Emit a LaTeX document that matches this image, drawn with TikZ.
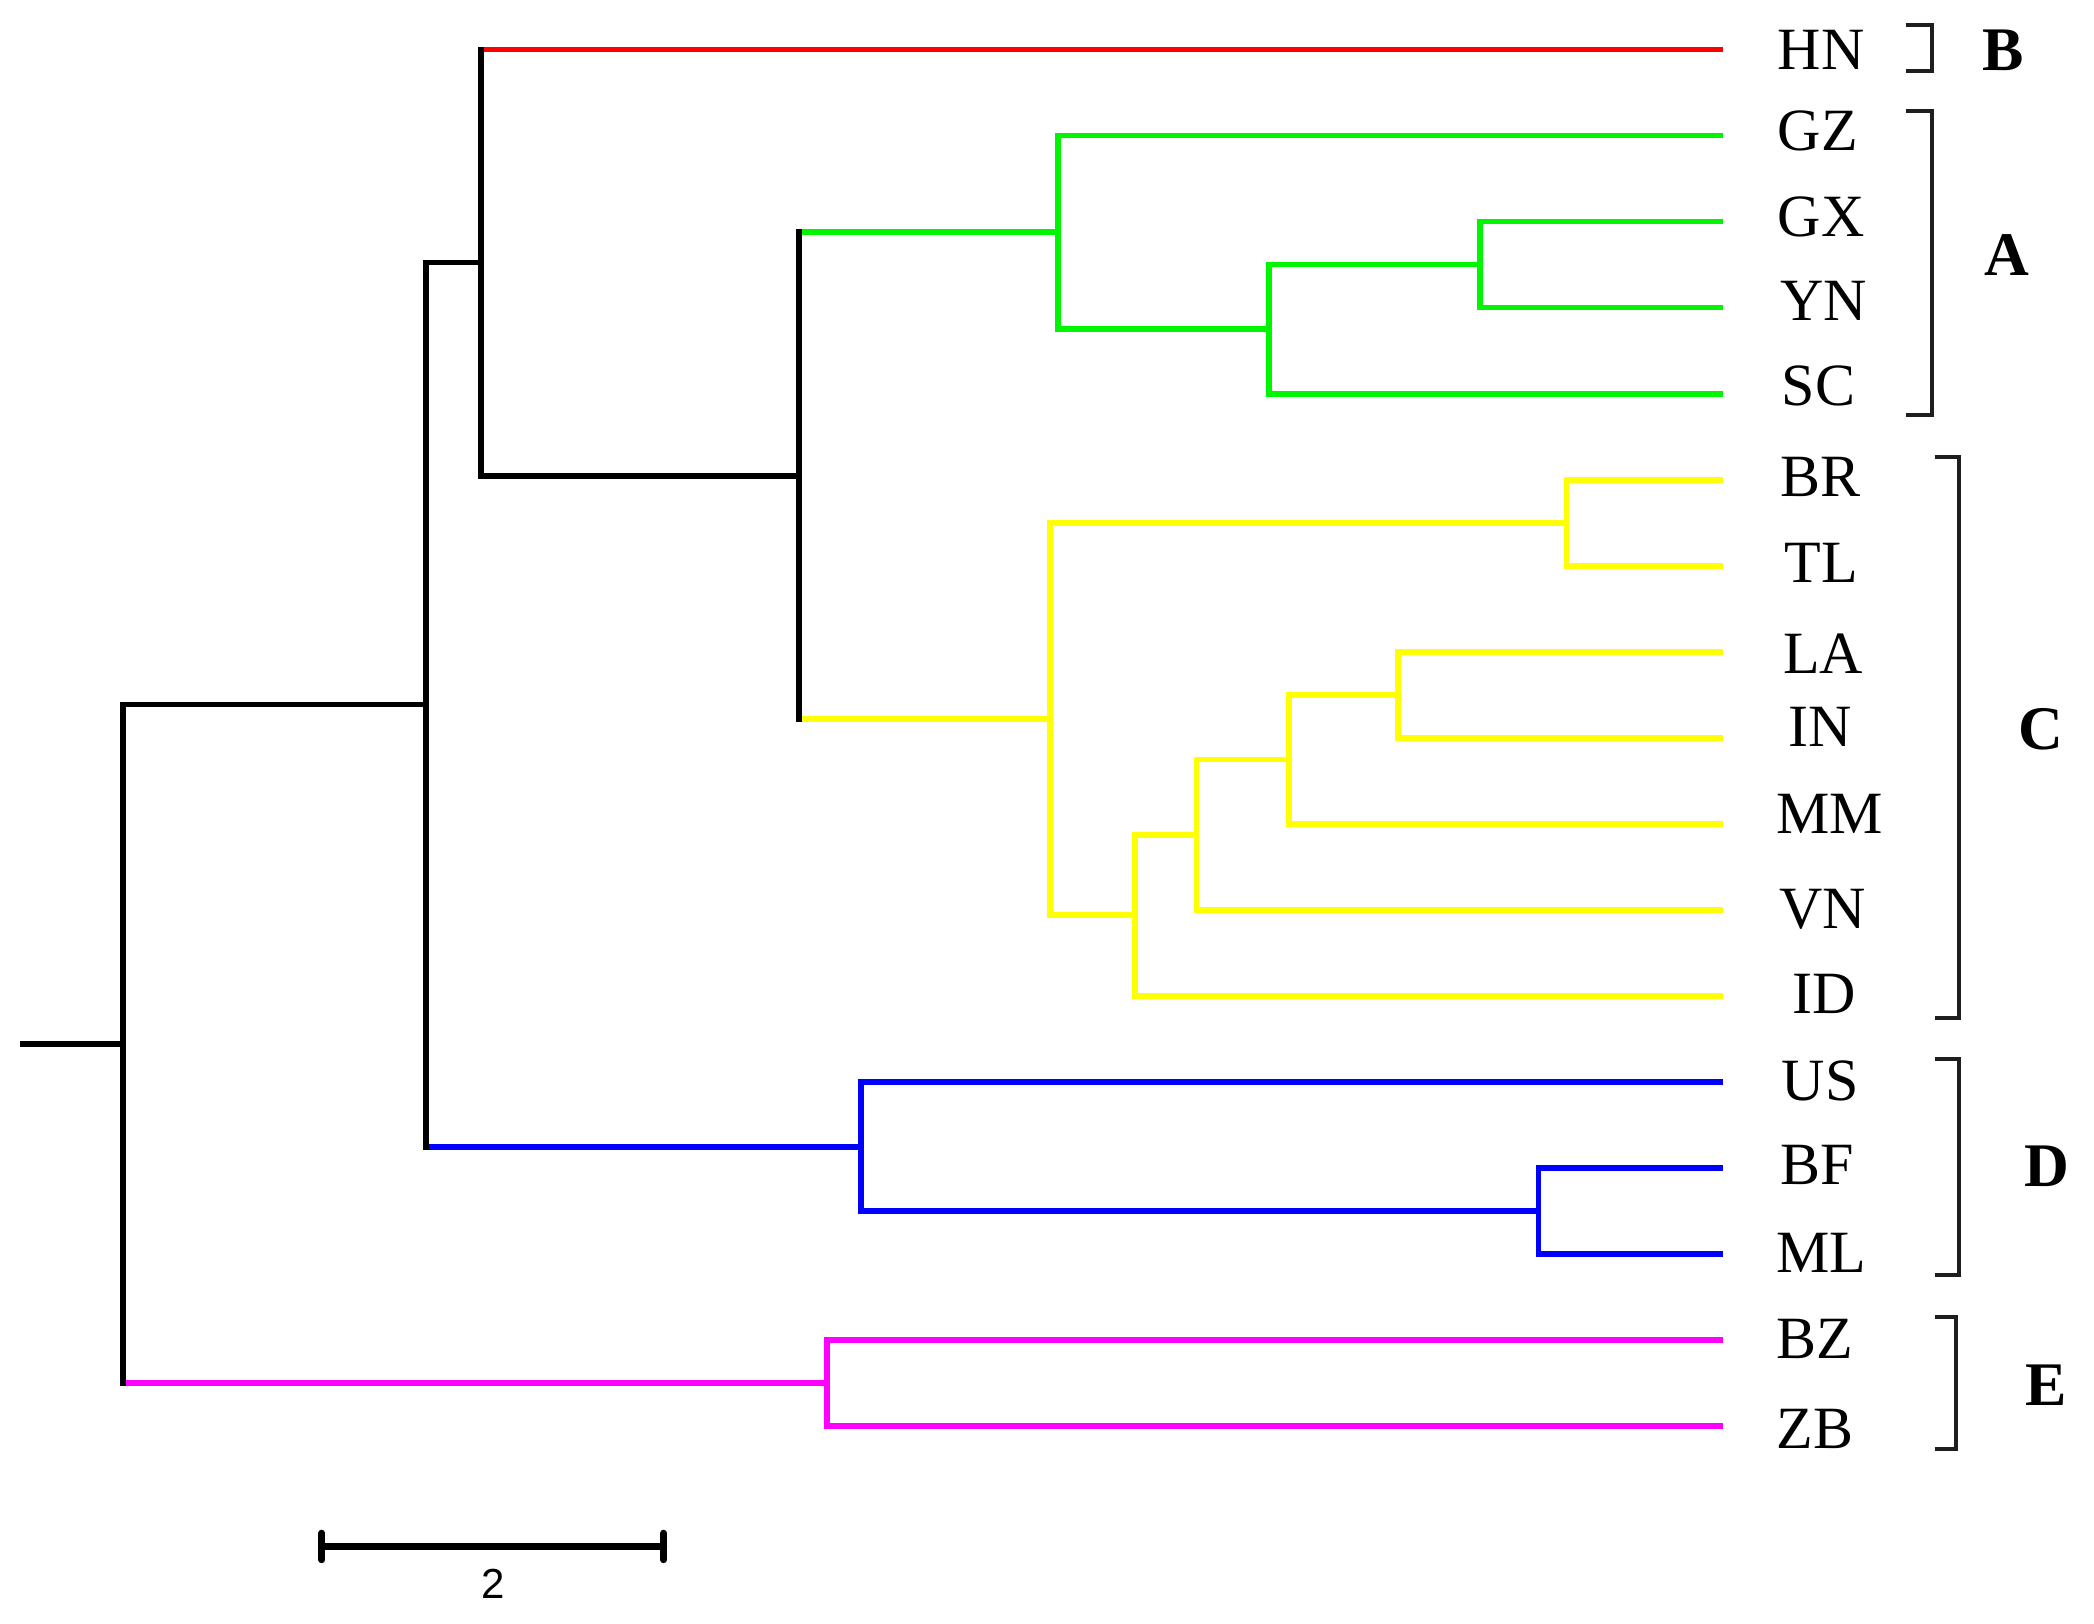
\documentclass[tikz,border=0pt]{standalone}
\usepackage{fontspec}
\setmainfont{Liberation Serif}
\newfontfamily\barfont{Liberation Sans}
\definecolor{cred}{RGB}{255,0,0}
\definecolor{cgreen}{RGB}{0,245,0}
\definecolor{cyellow}{RGB}{255,255,0}
\definecolor{cblue}{RGB}{0,0,255}
\definecolor{cmag}{RGB}{255,0,255}
\definecolor{cbrk}{RGB}{30,30,30}
\tikzset{
  edge/.style={line width=2.9pt, line cap=butt},
  vedge/.style={line width=2.9pt, line cap=rect},
  lab/.style={anchor=base west, inner sep=0pt, font=\fontsize{30}{30}\selectfont},
  grp/.style={anchor=center, inner sep=0pt, font=\fontsize{31}{31}\selectfont\bfseries},
  brk/.style={line width=2pt, draw=cbrk, line join=miter},
  sbar/.style={line width=3.4pt, line cap=round}
}
\begin{document}
\begin{tikzpicture}[x=0.6677pt,y=-0.6677pt]
\useasboundingbox (0,0) rectangle (1568,1216);
% internal nodes
\coordinate (root) at (15,781.7);
\coordinate (n0) at (92,781.7);
\coordinate (nABCD) at (319,527.6);
\coordinate (nBAC) at (360,196.6);
\coordinate (nAC) at (598,356.2);
\coordinate (nA) at (792,174);
\coordinate (nA2) at (950,246.5);
\coordinate (nA3) at (1108,198.1);
\coordinate (nC) at (786,538.4);
\coordinate (nC1) at (1173,391.4);
\coordinate (nC2) at (850,685.4);
\coordinate (nC3) at (896,625);
\coordinate (nC4) at (965,568.7);
\coordinate (nC5) at (1047,520.3);
\coordinate (nD) at (645,858.6);
\coordinate (nD1) at (1152,907);
\coordinate (nE) at (619,1035.8);
% leaves
\coordinate (lHN) at (1290,37);
\coordinate (lGZ) at (1290,101.4);
\coordinate (lGX) at (1290,165.9);
\coordinate (lYN) at (1290,230.3);
\coordinate (lSC) at (1290,294.8);
\coordinate (lBR) at (1290,359.2);
\coordinate (lTL) at (1290,423.6);
\coordinate (lLA) at (1290,488.1);
\coordinate (lIN) at (1290,552.5);
\coordinate (lMM) at (1290,617);
\coordinate (lVN) at (1290,681.4);
\coordinate (lID) at (1290,745.8);
\coordinate (lUS) at (1290,810.3);
\coordinate (lBF) at (1290,874.7);
\coordinate (lML) at (1290,939.2);
\coordinate (lBZ) at (1290,1003.6);
\coordinate (lZB) at (1290,1068);
% horizontal branches
\draw[edge] (root) -- (n0);
\draw[edge] (n0 |- nABCD) -- (nABCD);
\draw[edge,cmag] (n0 |- nE) -- (nE);
\draw[edge] (nABCD |- nBAC) -- (nBAC);
\draw[edge,cblue] (nABCD |- nD) -- (nD);
\draw[edge,cred] (nBAC |- lHN) -- (lHN);
\draw[edge] (nBAC |- nAC) -- (nAC);
\draw[edge,cgreen] (nAC |- nA) -- (nA);
\draw[edge,cyellow] (nAC |- nC) -- (nC);
\draw[edge,cgreen] (nA |- lGZ) -- (lGZ);
\draw[edge,cgreen] (nA |- nA2) -- (nA2);
\draw[edge,cgreen] (nA2 |- nA3) -- (nA3);
\draw[edge,cgreen] (nA2 |- lSC) -- (lSC);
\draw[edge,cgreen] (nA3 |- lGX) -- (lGX);
\draw[edge,cgreen] (nA3 |- lYN) -- (lYN);
\draw[edge,cyellow] (nC |- nC1) -- (nC1);
\draw[edge,cyellow] (nC |- nC2) -- (nC2);
\draw[edge,cyellow] (nC1 |- lBR) -- (lBR);
\draw[edge,cyellow] (nC1 |- lTL) -- (lTL);
\draw[edge,cyellow] (nC2 |- nC3) -- (nC3);
\draw[edge,cyellow] (nC2 |- lID) -- (lID);
\draw[edge,cyellow] (nC3 |- nC4) -- (nC4);
\draw[edge,cyellow] (nC3 |- lVN) -- (lVN);
\draw[edge,cyellow] (nC4 |- nC5) -- (nC5);
\draw[edge,cyellow] (nC4 |- lMM) -- (lMM);
\draw[edge,cyellow] (nC5 |- lLA) -- (lLA);
\draw[edge,cyellow] (nC5 |- lIN) -- (lIN);
\draw[edge,cblue] (nD |- lUS) -- (lUS);
\draw[edge,cblue] (nD |- nD1) -- (nD1);
\draw[edge,cblue] (nD1 |- lBF) -- (lBF);
\draw[edge,cblue] (nD1 |- lML) -- (lML);
\draw[edge,cmag] (nE |- lBZ) -- (lBZ);
\draw[edge,cmag] (nE |- lZB) -- (lZB);
% vertical bars
\draw[vedge] (n0 |- nABCD) -- (n0 |- nE);
\draw[vedge] (nABCD |- nBAC) -- (nABCD |- nD);
\draw[vedge] (nBAC |- lHN) -- (nBAC |- nAC);
\draw[vedge] (nAC |- nA) -- (nAC |- nC);
\draw[vedge,cgreen] (nA |- lGZ) -- (nA |- nA2);
\draw[vedge,cgreen] (nA2 |- nA3) -- (nA2 |- lSC);
\draw[vedge,cgreen] (nA3 |- lGX) -- (nA3 |- lYN);
\draw[vedge,cyellow] (nC |- nC1) -- (nC |- nC2);
\draw[vedge,cyellow] (nC1 |- lBR) -- (nC1 |- lTL);
\draw[vedge,cyellow] (nC2 |- nC3) -- (nC2 |- lID);
\draw[vedge,cyellow] (nC3 |- nC4) -- (nC3 |- lVN);
\draw[vedge,cyellow] (nC4 |- nC5) -- (nC4 |- lMM);
\draw[vedge,cyellow] (nC5 |- lLA) -- (nC5 |- lIN);
\draw[vedge,cblue] (nD |- lUS) -- (nD |- nD1);
\draw[vedge,cblue] (nD1 |- lBF) -- (nD1 |- lML);
\draw[vedge,cmag] (nE |- lBZ) -- (nE |- lZB);
% leaf labels
\node[lab] (tHN) at (1331,52) {HN};
\node[lab] (tGZ) at (1331,113) {GZ};
\node[lab] (tGX) at (1331,177) {GX};
\node[lab] (tYN) at (1333,240) {YN};
\node[lab] (tSC) at (1334,304) {SC};
\node[lab] (tBR) at (1333,372) {BR};
\node[lab] (tTL) at (1336,436) {TL};
\node[lab] (tLA) at (1335,504) {LA};
\node[lab] (tIN) at (1339,559) {IN};
\node[lab] (tMM) at (1330,624) {MM};
\node[lab] (tVN) at (1332,695) {VN};
\node[lab] (tID) at (1342,759) {ID};
\node[lab] (tUS) at (1334,824) {US};
\node[lab] (tBF) at (1333,887) {BF};
\node[lab] (tML) at (1330,953) {ML};
\node[lab] (tBZ) at (1330,1017) {BZ};
\node[lab] (tZB) at (1330,1085) {ZB};
% brackets
\draw[brk] (1427,19) -- (1447,19) -- (1447,53) -- (1427,53);
\draw[brk] (1427,83) -- (1447,83) -- (1447,311) -- (1427,311);
\draw[brk] (1449,342) -- (1467,342) -- (1467,762) -- (1449,762);
\draw[brk] (1449,793) -- (1467,793) -- (1467,955) -- (1449,955);
\draw[brk] (1449,986) -- (1465,986) -- (1465,1085) -- (1449,1085);
% group letters
\node[grp] (gB) at (1500,38) {B};
\node[grp] (gA) at (1503,191) {A};
\node[grp] (gC) at (1528,546) {C};
\node[grp] (gD) at (1533,873) {D};
\node[grp] (gE) at (1532,1037) {E};
% scale bar
\coordinate (sL) at (241,1158);
\coordinate (sR) at (497,1158);
\draw[sbar] (sL) -- (sR);
\draw[sbar] ([yshift=-10*0.6677pt]sL) -- ([yshift=10*0.6677pt]sL);
\draw[sbar] ([yshift=-10*0.6677pt]sR) -- ([yshift=10*0.6677pt]sR);
\node[inner sep=0pt, font=\barfont\fontsize{21}{21}\selectfont] (sN) at (369,1186) {2};
\end{tikzpicture}
\end{document}
